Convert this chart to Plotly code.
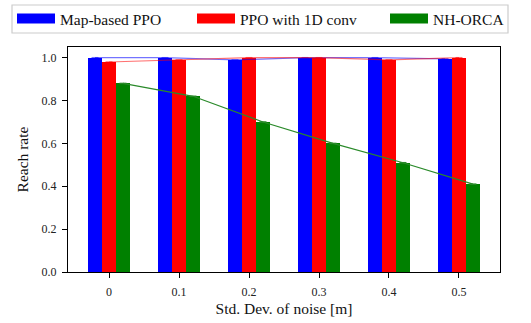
import plotly.graph_objects as go
import numpy as np

noise = [0, 0.1, 0.2, 0.3, 0.4, 0.5]
tick_labels = ["0", "0.1", "0.2", "0.3", "0.4", "0.5"]
map_ppo = [1.0, 1.0, 0.99, 1.0, 1.0, 0.995]
ppo_1d = [0.98, 0.99, 1.0, 1.0, 0.99, 1.0]
nh_orca = [0.88, 0.82, 0.70, 0.60, 0.51, 0.41]

series = [
    ("Map-based PPO", map_ppo, "#0000ff", "rgba(0,0,255,0.55)", -0.02, "legend", 12),
    ("PPO with 1D conv", ppo_1d, "#ff0000", "rgba(255,0,0,0.55)", 0.0, "legend2", 192),
    ("NH-ORCA", nh_orca, "#008000", "#2a8a2a", 0.02, "legend3", 385),
]

font = "Liberation Serif"
W, H = 531, 323
fig = go.Figure()
x = np.array(noise)
for name, vals, col, lcol, off, lg, lx in series:
    fig.add_trace(go.Bar(x=x + off, y=vals, width=0.02, marker=dict(color=col, line=dict(width=0)),
                         showlegend=False, name=name))
for name, vals, col, lcol, off, lg, lx in series:
    fig.add_trace(go.Scatter(x=x + off, y=vals, mode="lines+markers",
                             line=dict(color=lcol, width=1.2),
                             marker=dict(symbol="line-ew", size=5, line=dict(color=lcol, width=1.5)),
                             showlegend=False))
legends = {}
for name, vals, col, lcol, off, lg, lx in series:
    fig.add_trace(go.Scatter(x=[None], y=[None], mode="lines", name=name, legend=lg,
                             line=dict(color=col, width=12)))
    legends[lg] = dict(orientation="h", xref="container", yref="container", x=lx / W,
                       y=1 - 19 / H, xanchor="left", yanchor="middle", borderwidth=0,
                       bgcolor="rgba(0,0,0,0)", itemwidth=38,
                       font=dict(family=font, size=15.5, color="#111"))

# legend frame (layout decoration)
pl, pt, pw, ph = 68, 47, 432, 225
fig.add_shape(type="rect", xref="paper", yref="paper",
              x0=(12 - pl) / pw, x1=(508 - pl) / pw,
              y0=(pt + ph - 33) / ph, y1=(pt + ph - 5) / ph,
              line=dict(color="#cccccc", width=1.2), fillcolor="rgba(255,255,255,0.8)", layer="below")

fig.update_layout(
    width=W, height=H,
    margin=dict(l=pl, r=W - pl - pw, t=pt, b=H - pt - ph, autoexpand=False),
    paper_bgcolor="white", plot_bgcolor="white",
    barmode="overlay", bargap=0,
    font=dict(family=font, size=12, color="#222"),
    **legends,
    xaxis=dict(range=[-0.0586, 0.5586], tickvals=noise, ticktext=tick_labels,
               showgrid=False, zeroline=False, showline=True, linecolor="black", linewidth=1.2,
               mirror=True, ticks="outside", ticklen=5, tickcolor="black",
               ticklabelstandoff=3,
               tickfont=dict(size=12, family=font, color="#222"),
               title=dict(text="Std. Dev. of noise [m]", font=dict(size=15.5, family=font, color="#111"),
                          standoff=5)),
    yaxis=dict(range=[0, 1.05], tickvals=[0, 0.2, 0.4, 0.6, 0.8, 1.0],
               ticktext=["0.0", "0.2", "0.4", "0.6", "0.8", "1.0"],
               showgrid=False, zeroline=False, showline=True, linecolor="black", linewidth=1.2,
               mirror=True, ticks="outside", ticklen=5, tickcolor="black",
               ticklabelstandoff=3,
               tickfont=dict(size=12, family=font, color="#222"),
               title=dict(text="Reach rate", font=dict(size=15.5, family=font, color="#111"),
                          standoff=9)),
)
fig.write_html("out.html", config={"displayModeBar": False},
               post_script="document.body.style.margin='0';document.body.style.overflow='hidden';")
